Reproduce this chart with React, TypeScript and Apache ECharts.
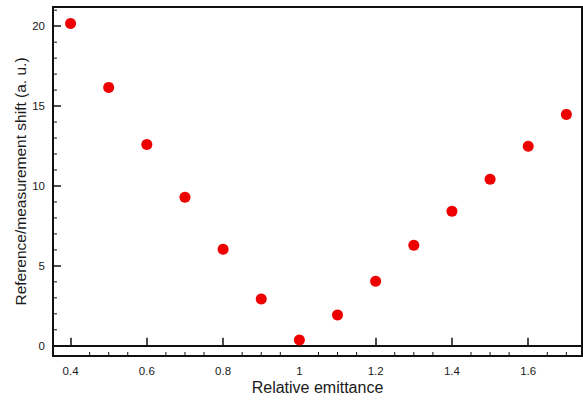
import React, { useEffect, useRef } from "react";
import * as echarts from "echarts";

const xValues = [0.4, 0.5, 0.6, 0.7, 0.8, 0.9, 1.0, 1.1, 1.2, 1.3, 1.4, 1.5, 1.6, 1.7];
const yValues = [20.17, 16.17, 12.6, 9.3, 6.04, 2.92, 0.36, 1.92, 4.04, 6.29, 8.42, 10.42, 12.48, 14.48];
const xMinorTicks = [0.45, 0.5, 0.55, 0.65, 0.7, 0.75, 0.85, 0.9, 0.95, 1.05, 1.1, 1.15, 1.25, 1.3, 1.35, 1.45, 1.5, 1.55, 1.65, 1.7];
const yMinorTicks = [1, 2, 3, 4, 6, 7, 8, 9, 11, 12, 13, 14, 16, 17, 18, 19, 21];

const X_MIN = 0.354;
const X_MAX = 1.741;
const Y_MIN = -0.64;
const Y_MAX = 21.2;

const FONT = "'Liberation Sans', Arial, Helvetica, sans-serif";

export default function App() {
  const ref = useRef<HTMLDivElement>(null);
  useEffect(() => {
    if (!ref.current) return;
    const chart = echarts.init(ref.current, null, { renderer: "svg" });
    const points = xValues.map((x, i) => [x, yValues[i]]);
    chart.setOption({
      animation: false,
      backgroundColor: "#ffffff",
      grid: {
        left: 53,
        top: 7,
        width: 529,
        height: 349,
        containLabel: false,
        outerBoundsMode: "none",
        show: true,
        borderColor: "#111",
        borderWidth: 2,
        backgroundColor: "transparent",
      },
      xAxis: {
        type: "value",
        min: X_MIN,
        max: X_MAX,
        minInterval: 0.2,
        maxInterval: 0.2,
        splitNumber: 7,
        name: "Relative emittance",
        nameLocation: "middle",
        nameGap: 23,
        nameMoveOverlap: false,
        nameTextStyle: { fontFamily: FONT, fontSize: 16, color: "#1a1a1a" },
        axisLine: { show: true, lineStyle: { color: "#111", width: 2 } },
        axisTick: { show: true, inside: true, length: 8, lineStyle: { color: "#111", width: 1.5 } },
        axisLabel: {
          showMinLabel: false,
          showMaxLabel: false,
          margin: 9,
          fontFamily: FONT,
          fontSize: 11.5,
          color: "#1a1a1a",
          formatter: (v: number) => String(Math.round(v * 10) / 10),
        },
        splitLine: { show: false },
      },
      yAxis: {
        type: "value",
        min: Y_MIN,
        max: Y_MAX,
        minInterval: 5,
        maxInterval: 5,
        splitNumber: 4,
        name: "Reference/measurement shift (a. u.)",
        nameLocation: "middle",
        nameGap: 25,
        nameMoveOverlap: false,
        nameTextStyle: { fontFamily: FONT, fontSize: 15.5, color: "#1a1a1a" },
        axisLine: { show: true, lineStyle: { color: "#111", width: 2 } },
        axisTick: { show: true, inside: true, length: 8, lineStyle: { color: "#111", width: 1.5 } },
        axisLabel: {
          showMinLabel: false,
          showMaxLabel: false,
          margin: 8,
          fontFamily: FONT,
          fontSize: 11.5,
          color: "#1a1a1a",
          formatter: (v: number) => String(Math.round(v)),
        },
        splitLine: { show: false },
      },
      series: [
        {
          type: "custom",
          silent: true,
          data: xMinorTicks.map((v) => [v, Y_MIN]),
          renderItem: (params: any, api: any) => {
            const p = api.coord([api.value(0), api.value(1)]);
            return {
              type: "line",
              shape: { x1: p[0], y1: p[1], x2: p[0], y2: p[1] - 4 },
              style: { stroke: "#111", lineWidth: 1 },
            };
          },
        },
        {
          type: "custom",
          silent: true,
          data: yMinorTicks.map((v) => [X_MIN, v]),
          renderItem: (params: any, api: any) => {
            const p = api.coord([api.value(0), api.value(1)]);
            return {
              type: "line",
              shape: { x1: p[0], y1: p[1], x2: p[0] + 4, y2: p[1] },
              style: { stroke: "#111", lineWidth: 1 },
            };
          },
        },
        {
          type: "scatter",
          data: points,
          symbol: "circle",
          symbolSize: 11,
          itemStyle: { color: "#ee0000", opacity: 1 },
        },
      ],
    });
    return () => chart.dispose();
  }, []);
  return (
    <div
      ref={ref}
      style={{ position: "fixed", left: 0, top: 0, width: 583, height: 401, background: "#fff" }}
    />
  );
}
